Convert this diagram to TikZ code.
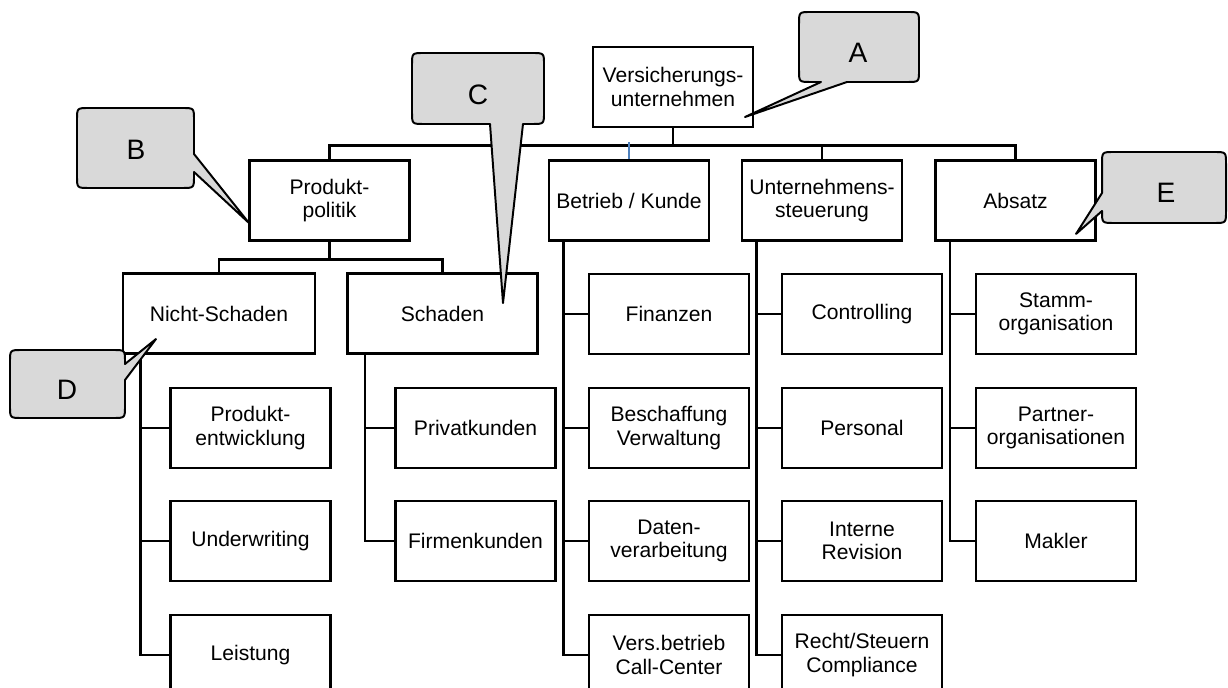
\documentclass[tikz,border=0pt]{standalone}
\usepackage{fontspec}
\setmainfont{Liberation Sans}

\definecolor{bubblegray}{RGB}{217,217,217}
\definecolor{linkblue}{RGB}{79,129,189}

\tikzset{
  orgbox/.style={draw, rectangle, line width=1.8pt, minimum width=4cm, minimum height=2cm, inner sep=1pt, align=center, font=\fontsize{15}{16.5}\selectfont},
  link/.style={line width=1.8pt},
  bubble/.style={draw, fill=bubblegray, line width=1.4pt, line join=round},
  bubbletext/.style={font=\fontsize{20}{24}\selectfont}
}

\begin{document}
\begin{tikzpicture}[x=0.025cm, y=-0.025cm]
        \useasboundingbox (0,0) rectangle (1228,688);
        \clip (0,0) rectangle (1228,688);

        % Unternehmen
        \node[orgbox] (vu) at (673,87) {Versicherungs-\\unternehmen};

        % Bereiche
        \node[orgbox] (prod) at (329.5,200.5) {Produkt-\\politik};
        \node[orgbox] (betrieb) at (629,200.5) {Betrieb / Kunde};
        \node[orgbox] (steuer) at (822,200.5) {Unternehmens-\\steuerung};
        \node[orgbox] (absatz) at (1015.5,200.5) {Absatz};

        % Produktpolitik
        \node[orgbox, minimum width=4.8cm] (nicht) at (219,313.5) {Nicht-Schaden};
        \node[orgbox, minimum width=4.75cm] (schaden) at (442.5,313.5) {Schaden};

        % Nicht-Schaden
        \node[orgbox] (entw) at (250.5,428) {Produkt-\\entwicklung};
        \node[orgbox] (underw) at (250.5,541) {Underwriting};
        \node[orgbox] (leist) at (250.5,655) {Leistung};

        % Schaden
        \node[orgbox] (privat) at (475.5,428) {Privatkunden};
        \node[orgbox] (firmen) at (475.5,541) {Firmenkunden};

        % Betrieb / Kunde
        \node[orgbox] (fin) at (669,314) {Finanzen};
        \node[orgbox] (beschaff) at (669,428) {Beschaffung\\Verwaltung};
        \node[orgbox] (daten) at (669,541) {Daten-\\verarbeitung};
        \node[orgbox] (versbetr) at (669,655) {Vers.betrieb\\Call-Center};

        % Unternehmenssteuerung
        \node[orgbox] (contr) at (862,314) {Controlling};
        \node[orgbox] (pers) at (862,428) {Personal};
        \node[orgbox] (revision) at (862,541) {Interne\\Revision};
        \node[orgbox] (recht) at (862,655) {Recht/Steuern\\Compliance};

        % Absatz
        \node[orgbox] (stamm) at (1056,314) {Stamm-\\organisation};
        \node[orgbox] (partner) at (1056,428) {Partner-\\organisationen};
        \node[orgbox] (makler) at (1056,541) {Makler};

        % Linien oben
        \draw[link] (vu.south) -- ++(0,17) -| (prod.north);
        \draw[link] (vu.south) -- ++(0,17) -| (steuer.north);
        \draw[link] (vu.south) -- ++(0,17) -| (absatz.north);
        \draw[line width=1.2pt, linkblue] (betrieb.north) -- ++(0,-17);
        \draw[link] (prod.south) -- ++(0,17.5) -| (nicht.north);
        \draw[link] (prod.south) -- ++(0,17.5) -| (schaden.north);

        % Linien unten
        \draw[link] (nicht.south west) ++(19,0) |- (entw.west);
        \draw[link] (nicht.south west) ++(19,0) |- (underw.west);
        \draw[link] (nicht.south west) ++(19,0) |- (leist.west);
        \draw[link] (schaden.south west) ++(19,0) |- (privat.west);
        \draw[link] (schaden.south west) ++(19,0) |- (firmen.west);
        \draw[link] (betrieb.south west) ++(16,0) |- (fin.west);
        \draw[link] (betrieb.south west) ++(16,0) |- (beschaff.west);
        \draw[link] (betrieb.south west) ++(16,0) |- (daten.west);
        \draw[link] (betrieb.south west) ++(16,0) |- (versbetr.west);
        \draw[link] (steuer.south west) ++(16,0) |- (contr.west);
        \draw[link] (steuer.south west) ++(16,0) |- (pers.west);
        \draw[link] (steuer.south west) ++(16,0) |- (revision.west);
        \draw[link] (steuer.south west) ++(16,0) |- (recht.west);
        \draw[link] (absatz.south west) ++(16,0) |- (stamm.west);
        \draw[link] (absatz.south west) ++(16,0) |- (partner.west);
        \draw[link] (absatz.south west) ++(16,0) |- (makler.west);

        % Sprechblasen
        \coordinate (tipA) at (745,117);
        \coordinate (tipB) at (249,223);
        \coordinate (tipC) at (503,303);
        \coordinate (tipD) at (156,339);
        \coordinate (tipE) at (1076,234);

        \draw[bubble] (811,12) -- (907,12) .. controls (919,12) .. (919,24) -- (919,70) .. controls (919,82) .. (907,82) -- (847,82) -- (tipA) -- (821,82) -- (811,82) .. controls (799,82) .. (799,70) -- (799,24) .. controls (799,12) .. (811,12) -- cycle;
        \node[bubbletext] (labA) at (858,53) {A};

        \draw[bubble] (89,108) -- (182,108) .. controls (194,108) .. (194,120) -- (194,154) -- (tipB) -- (194,172) -- (194,176) .. controls (194,188) .. (182,188) -- (89,188) .. controls (77,188) .. (77,176) -- (77,120) .. controls (77,108) .. (89,108) -- cycle;
        \node[bubbletext] (labB) at (136,150) {B};

        \draw[bubble] (424,53) -- (532,53) .. controls (544,53) .. (544,65) -- (544,112) .. controls (544,124) .. (532,124) -- (523,124) -- (tipC) -- (490,124) -- (424,124) .. controls (412,124) .. (412,112) -- (412,65) .. controls (412,53) .. (424,53) -- cycle;
        \node[bubbletext] (labC) at (478,95) {C};

        \draw[bubble] (22,350) -- (113,350) .. controls (125,350) .. (125,362) -- (125,364) -- (tipD) -- (125,380) -- (125,406) .. controls (125,418) .. (113,418) -- (22,418) .. controls (10,418) .. (10,406) -- (10,362) .. controls (10,350) .. (22,350) -- cycle;
        \node[bubbletext] (labD) at (67,390) {D};

        \draw[bubble] (1114,152) -- (1214,152) .. controls (1226,152) .. (1226,164) -- (1226,211) .. controls (1226,223) .. (1214,223) -- (1114,223) .. controls (1102,223) .. (1102,211) -- (tipE) -- (1102,193) -- (1102,164) .. controls (1102,152) .. (1114,152) -- cycle;
        \node[bubbletext] (labE) at (1166,193) {E};
    \end{tikzpicture}
\end{document}
